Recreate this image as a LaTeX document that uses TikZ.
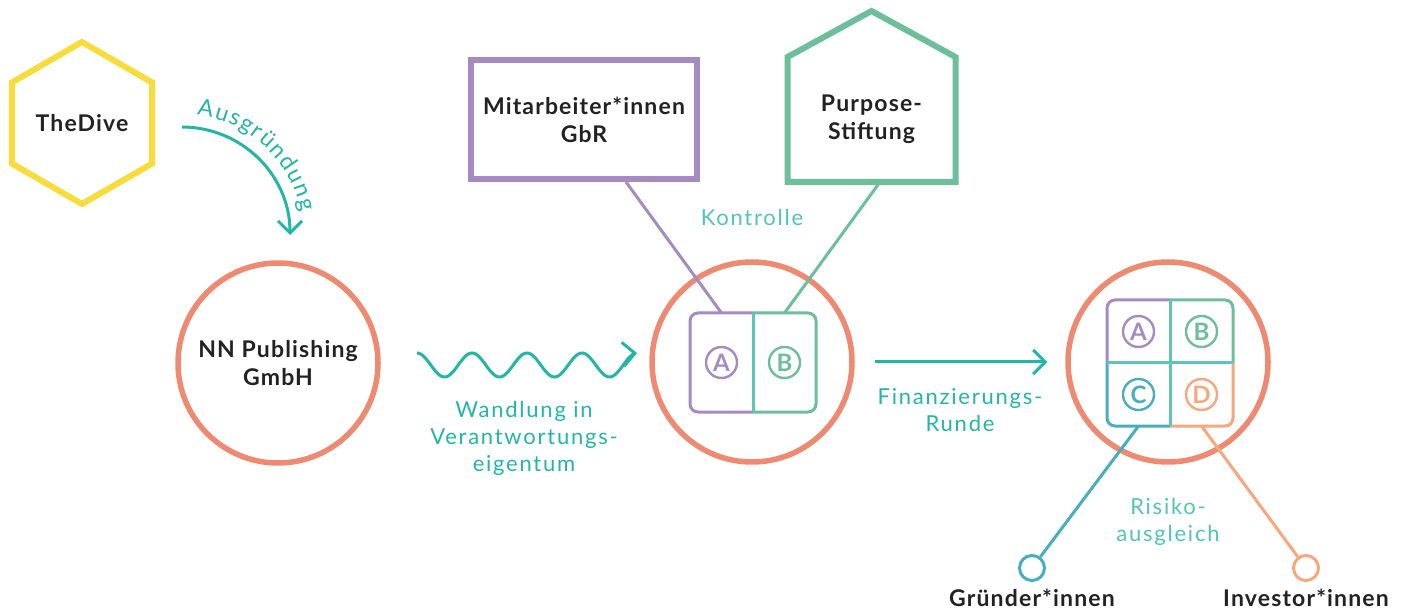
\documentclass[tikz,border=0pt]{standalone}
\usepackage{fontspec}
\setmainfont{Lato}
\usepackage{tikz}
\usetikzlibrary{arrows.meta,positioning,shapes.geometric,calc,decorations.text}
\definecolor{ddyellow}{HTML}{F7DC3B}
\definecolor{ddsalmon}{HTML}{EF8A72}
\definecolor{ddpurple}{HTML}{A68BC2}
\definecolor{ddgreen}{HTML}{6DBE9B}
\definecolor{ddmint}{HTML}{5CC6B9}
\definecolor{ddteal}{HTML}{48AEBE}
\definecolor{ddorange}{HTML}{F6A77E}
\definecolor{ddtext}{HTML}{23B5A6}
\definecolor{ddlight}{HTML}{52C4B6}
\definecolor{ddink}{HTML}{222222}
\newfontfamily\spacedfont[LetterSpace=8]{Lato}
\newfontfamily\namefam[LetterSpace=5]{Lato}
\newcommand\namefont{\namefam\fontsize{11.5}{14}\selectfont\bfseries}
\newcommand\tagfont{\spacedfont\fontsize{11}{13.5}\selectfont}
\tikzset{
  hexa/.style={regular polygon, regular polygon sides=6, shape border rotate=30,
               draw=ddyellow, line width=3pt, minimum size=81pt, inner sep=0pt,
               font=\namefont, text=ddink},
  org/.style={circle, draw=ddsalmon, line width=2.75pt, minimum size=100pt,
              inner sep=0pt, align=center, font=\namefont, text=ddink},
  owner/.style={rectangle, line width=3pt, inner sep=0pt, align=center,
                font=\namefont, text=ddink},
  part/.style={rectangle, minimum width=31.5pt, minimum height=31.5pt,
               inner sep=0pt, outer sep=0pt},
  edge/.style={line width=1.5pt, rounded corners=4pt},
  badge/.style={circle, draw, line width=1.2pt, minimum size=15.5pt, inner sep=0pt,
                font=\fontsize{12}{12}\selectfont\bfseries},
  tip/.style={circle, line width=1.5pt, minimum size=12.5pt, inner sep=0pt},
  who/.style={font=\namefont, text=ddink, inner sep=0pt},
  tag/.style={align=center, font=\tagfont, text=ddtext},
  link/.style={line width=1.5pt},
  ar/.style={-{Straight Barb[length=6pt,width=12pt]}, draw=ddtext, line width=1.5pt},
}
\begin{document}
\begin{tikzpicture}[x=0.5pt,y=-0.5pt]
\useasboundingbox (0,0) rectangle (1407,614);

% --- left: spin-off
\node[hexa] (td) at (82,123) {TheDive};
\node[org] (np) at (278,363) {NN Publishing\\GmbH};
\coordinate (ausc) at (182,235);
\coordinate (auss) at (182,127);
\draw[ar] (auss) arc[start angle=-90,end angle=0,radius=108];
\path[decorate,decoration={text along path,text align=fit to path,
   text={|\fontsize{11.5}{13.5}\selectfont\color{ddtext}|Ausgründung}}]
   (ausc) ++(-83:121) arc[start angle=-83,end angle=-11,radius=121];

% --- wave into the middle circle
\draw[ar] plot[domain=0:4,samples=121,smooth,variable=\t] ({417+55*\t},{365-12*cos(360*\t)});
\node[tag] (wl) at (524,438) {Wandlung in\\Verantwortungs-\\eigentum};

% --- middle: owners
\node[owner,draw=ddpurple,minimum width=112.75pt,minimum height=59.5pt] (mg) at (584,119.5) {Mitarbeiter*innen\\GbR};
\node[owner,minimum width=81pt,minimum height=59.5pt] (ps) at (871.5,119.5) {Purpose-\\Stiftung};
\draw[ddgreen,line width=3pt,line join=miter] (ps.south west) -- (ps.north west) -- ([yshift=23pt]ps.north)
   -- (ps.north east) -- (ps.south east) -- cycle;
\node[tag,text=ddlight] (kt) at (752,217) {Kontrolle};

\node[org] (om) at (752,362) {};
\node[part,minimum height=49.5pt] (ca) at (721.5,362.5) {};
\node[part,minimum height=49.5pt,right=0pt of ca] (cb) {};
\draw[edge,ddpurple] (ca.north east) -- (ca.north west) -- (ca.south west) -- (ca.south east);
\draw[edge,ddgreen] (cb.north west) -- (cb.north east) -- (cb.south east) -- (cb.south west);
\draw[edge,ddmint] (ca.north east) -- (ca.south east);
\node[badge,draw=ddpurple,text=ddpurple] (ba) at (ca) {A};
\node[badge,draw=ddgreen,text=ddgreen] (bb) at (cb) {B};
\draw[link,ddpurple] ([xshift=21pt]mg.south) -- (ca.north);
\draw[link,ddgreen] ([xshift=4.25pt]ps.south) -- (cb.north);

% --- right: funding round
\node[org] (or) at (1168,362) {};
\draw[ar] ([xshift=10pt]om.east) -- ([xshift=-9pt]or.west);
\node[tag] (fr) at (960,410) {Finanzierungs-\\Runde};
\node[part] (qa) at (1138.5,331.5) {};
\node[part,right=0pt of qa] (qb) {};
\node[part,below=0pt of qa] (qc) {};
\node[part,right=0pt of qc] (qd) {};
\draw[edge,ddpurple] (qa.south west) -- (qa.north west) -- (qa.north east);
\draw[edge,ddgreen] (qb.north west) -- (qb.north east) -- (qb.south east);
\draw[edge,ddteal] (qc.north west) -- (qc.south west) -- (qc.south east);
\draw[edge,ddorange] (qd.south west) -- (qd.south east) -- (qd.north east);
\draw[edge,ddmint] (qa.north east) -- (qd.south west) (qa.south west) -- (qb.south east);
\node[badge,draw=ddpurple,text=ddpurple] (qba) at (qa) {A};
\node[badge,draw=ddgreen,text=ddgreen] (qbb) at (qb) {B};
\node[badge,draw=ddteal,text=ddteal] (qbc) at (qc) {C};
\node[badge,draw=ddorange,text=ddorange] (qbd) at (qd) {D};

% --- risk sharing
\node[tip,draw=ddteal] (gc) at (1032,568) {};
\node[tip,draw=ddorange] (ic) at (1306,568) {};
\draw[link,ddteal] (qc.south) -- (gc);
\draw[link,ddorange] (qd.south) -- (ic);
\node[tag,text=ddlight] (rk) at (1168,522) {Risiko-\\ausgleich};
\node[who,below=3.5pt of gc] (gl) {Gründer*innen};
\node[who,below=3.5pt of ic] (il) {Investor*innen};
\end{tikzpicture}
\end{document}
